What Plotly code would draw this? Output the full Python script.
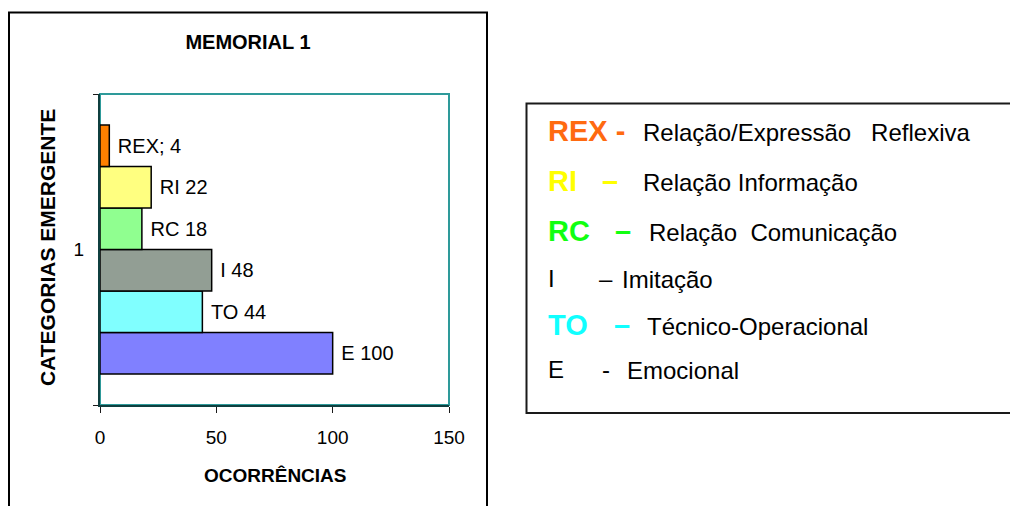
import plotly.graph_objects as go

# data (top to bottom)
categories = ["REX", "RI", "RC", "I", "TO", "E"]
ocorrencias = [4, 22, 18, 48, 44, 100]
label_sep = ["; ", " ", " ", " ", " ", " "]
group_label = "1"
x_ticks = [0, 50, 100, 150]

bar_colors = ["#FF8000", "#FFFF80", "#90FF90", "#929E94", "#80FFFF", "#8080FF"]

# legend box text
legend_codes = ["REX -", "RI", "RC", "I", "TO", "E"]
legend_dashes = ["", "–", "–", "–", "–", "-"]
legend_texts = ["Relação/Expressão\u00a0\u00a0 Reflexiva", "Relação Informação",
                "Relação\u00a0 Comunicação", "Imitação", "Técnico-Operacional", "Emocional"]
legend_colors = ["#FF6A10", "#FFFF00", "#11FF11", "#000000", "#11FFFF", "#000000"]
legend_bold = [True, True, True, False, True, False]

# the page body has an 8px margin: shrink the figure so nothing scrolls,
# and work in page pixels shifted by that margin
OFF = 8
W, H = 1018 - 2 * OFF, 514 - 2 * OFF
PLOT_L, PLOT_R, PLOT_T, PLOT_B = 100, 449, 94, 405   # plot area, page pixels
L, R = PLOT_L - OFF, W - (PLOT_R - OFF)
T, B = PLOT_T - OFF, H - (PLOT_B - OFF)
FONT = "Liberation Sans, Arial, sans-serif"


def fx(px):
    # page pixel -> paper x
    return (px - PLOT_L) / (PLOT_R - PLOT_L)


def fy(py):
    # page pixel -> paper y
    return (PLOT_B - py) / (PLOT_B - PLOT_T)


fig = go.Figure()

# plotly stacks grouped horizontal bars bottom-up, so add them reversed
for cat, val, sep, col in reversed(list(zip(categories, ocorrencias, label_sep, bar_colors))):
    fig.add_trace(go.Bar(
        y=[group_label], x=[val], orientation="h", name=cat,
        text=[cat + sep + str(val)], texttemplate="\u00a0%{text}",
        textposition="outside", cliponaxis=False,
        textfont=dict(family=FONT, size=20, color="black"),
        marker=dict(color=col, line=dict(color="black", width=1.5)),
    ))

shapes = [
    # teal plot frame
    dict(type="rect", xref="paper", yref="paper", x0=0, x1=1, y0=0, y1=1,
         line=dict(color="#2E9A9A", width=2), layer="below"),
    # outer chart border
    dict(type="rect", xref="paper", yref="paper", x0=fx(9), x1=fx(487), y0=fy(540), y1=fy(12.5),
         line=dict(color="black", width=2)),
    # legend box
    dict(type="rect", xref="paper", yref="paper", x0=fx(526.5), x1=fx(1040), y0=fy(413), y1=fy(103.5),
         line=dict(color="#1a1a1a", width=2)),
]

annotations = [
    dict(text="<b>OCORRÊNCIAS</b>", x=fx(275.5), y=fy(475), xref="paper", yref="paper",
         showarrow=False, font=dict(family=FONT, size=19, color="black"),
         xanchor="center", yanchor="middle"),
    dict(text="<b>CATEGORIAS EMERGENTE</b>", x=fx(47), y=fy(248), xref="paper", yref="paper",
         showarrow=False, textangle=-90, font=dict(family=FONT, size=21, color="black"),
         xanchor="center", yanchor="middle"),
]

row_y = [131, 181, 231, 278, 325, 369]
dash_x = [None, 600, 613, 597, 612, 600]
text_x = [641, 641, 647, 620, 645, 625]
for code, dash, desc, col, bold, yy, dx, tx in zip(legend_codes, legend_dashes, legend_texts,
                                                   legend_colors, legend_bold, row_y, dash_x, text_x):
    size = 29 if bold else 24
    wrap = (lambda s: "<b>" + s + "</b>") if bold else (lambda s: s)
    annotations.append(dict(text=wrap(code), x=fx(546), y=fy(yy), xref="paper", yref="paper",
                            showarrow=False, font=dict(family=FONT, size=size, color=col),
                            xanchor="left", yanchor="middle"))
    if dash:
        annotations.append(dict(text=wrap(dash), x=fx(dx), y=fy(yy), xref="paper", yref="paper",
                                showarrow=False, font=dict(family=FONT, size=size, color=col),
                                xanchor="left", yanchor="middle"))
    annotations.append(dict(text=desc, x=fx(tx), y=fy(yy + 1), xref="paper", yref="paper",
                            showarrow=False, font=dict(family=FONT, size=24, color="black"),
                            xanchor="left", yanchor="middle"))

fig.update_layout(
    width=W, height=H,
    margin=dict(l=L, r=R, t=T, b=B, pad=0),
    barmode="group", bargap=0.2, bargroupgap=0,
    showlegend=False,
    plot_bgcolor="white", paper_bgcolor="white",
    font=dict(family=FONT, color="black"),
    title=dict(text="<b>MEMORIAL 1</b>", x=(248 - OFF) / W, y=1 - (42 - OFF) / H,
               xanchor="center", yanchor="middle",
               font=dict(family=FONT, size=20, color="black")),
    shapes=shapes,
    annotations=annotations,
)

fig.update_xaxes(range=[0, 150], tickvals=x_ticks, ticks="outside", ticklen=6, tickcolor="#1a1a1a",
                 showline=True, linecolor="#0F3F3F", linewidth=2, showgrid=False, zeroline=False,
                 tickfont=dict(family=FONT, size=19, color="black"), ticklabelstandoff=8)
fig.update_yaxes(type="category", ticks="outside", tickson="boundaries", ticklen=5, tickcolor="#1a1a1a",
                 showline=True, linecolor="#0F3F3F", linewidth=2, showgrid=False, zeroline=False,
                 tickfont=dict(family=FONT, size=19, color="black"), ticklabelstandoff=10)

fig.write_html("out.html")
